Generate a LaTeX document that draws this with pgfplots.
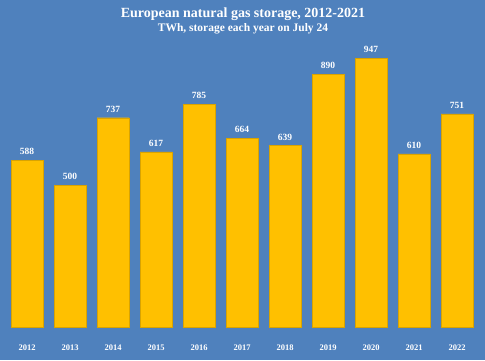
\documentclass[border=0pt]{standalone}
\usepackage{pgfplots}
\pgfplotsset{compat=1.18}
\usepackage{fontspec}
\setmainfont{Liberation Serif}
\definecolor{bgblue}{RGB}{79,129,189}
\definecolor{baryellow}{RGB}{255,192,0}
\begin{document}
\begin{tikzpicture}
\begin{axis}[
  scale only axis, width=485pt, height=360pt,
  xmin=-0.628, xmax=10.651, ymin=-116.2, ymax=1151.2,
  /pgf/number format/assume math mode=true,
  axis background/.style={fill=bgblue},
  axis line style={draw=none},
  major tick length=0pt,
  ytick=\empty,
  xtick=data,
  xticklabels={2012,2013,2014,2015,2016,2017,2018,2019,2020,2021,2022},
  xticklabel style={text=white,font=\bfseries\fontsize{8.5}{10}\selectfont, anchor=center, yshift=12pt},
  clip=false,
  ybar, bar width=32pt,
  nodes near coords,
  every node near coord/.append style={text=white,font=\bfseries\fontsize{9.5}{11}\selectfont, yshift=2pt},
]
\addplot[fill=baryellow, draw=baryellow!85!black, line width=0.3pt] coordinates {
(0,588) (1,500) (2,737) (3,617) (4,785) (5,664) (6,639) (7,890) (8,947) (9,610) (10,751)};
\node[text=white,font=\bfseries\fontsize{14}{16}\selectfont] at (rel axis cs:0.501,0.9611) {European natural gas storage, 2012-2021};
\node[text=white,font=\bfseries\fontsize{11.5}{13}\selectfont] at (rel axis cs:0.501,0.9194) {TWh, storage each year on July 24};
\end{axis}
\end{tikzpicture}
\end{document}
